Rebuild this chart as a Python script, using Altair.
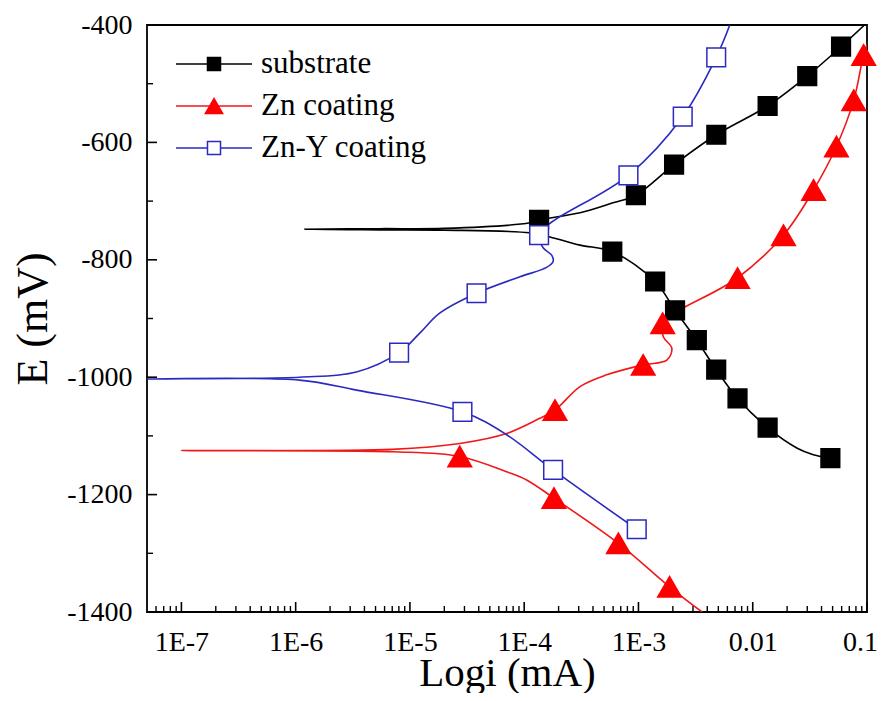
import json
import altair as alt
import pandas as pd

FONT = "Liberation Serif"
series_names = ["substrate", "Zn coating", "Zn-Y coating"]
line_colors = ["#000000", "#f01818", "#2a2ac0"]

# Each path: cathodic end -> corrosion tip -> anodic end ; m = 1 where a symbol is drawn
sub_i = [0.0478, 0.0339, 0.0245, 0.0135, 7.36e-3, 4.79e-3, 3.24e-3, 2.09e-3, 1.40e-3, 5.9e-4,
         3.08e-4, 1.68e-4, 1.12e-4, 2.0e-5, 5.4e-6, 1.2e-6, 5.4e-6, 2.0e-5, 1.12e-4, 1.35e-4,
         3.08e-4, 5.98e-4, 9.5e-4, 2.05e-3, 4.8e-3, 0.0135, 0.030, 0.0593, 0.095]
sub_E = [-1138, -1132, -1121, -1086, -1036, -987, -937, -886, -837, -786,
         -775, -761, -754, -749.5, -749, -748, -747, -746.5, -737, -732,
         -720, -703, -690, -638, -587, -538, -487, -437, -400]
sub_m = [1, 0, 0, 1, 1, 1, 1, 1, 1, 1,
         0, 0, 0, 0, 0, 0, 0, 0, 0, 1,
         0, 0, 1, 1, 1, 1, 1, 1, 0]

zn_i = [3.6e-3, 1.87e-3, 6.67e-4, 1.82e-4, 1.05e-4, 7.0e-5, 2.73e-5, 7.0e-6, 1.0e-7, 7.0e-6,
        2.73e-5, 7.0e-5, 1.37e-4, 1.86e-4, 3.08e-4, 5.27e-4, 1.10e-3, 1.77e-3, 1.96e-3, 1.65e-3,
        1.63e-3, 7.36e-3, 0.0186, 0.0341, 0.054, 0.0766, 0.0935, 0.104]
zn_E = [-1400, -1357, -1283, -1206, -1175, -1161, -1135, -1127, -1125, -1123,
        -1113, -1096, -1070, -1056, -1016, -996, -979, -971, -951, -931,
        -908, -831, -758, -681, -607, -528, -451, -425]
zn_m = [0, 1, 1, 1, 0, 0, 1, 0, 0, 0,
        0, 0, 0, 1, 0, 0, 1, 0, 0, 0,
        1, 1, 1, 1, 1, 1, 1, 0]

zy_i = [9.66e-4, 1.79e-4, 7.02e-5, 2.88e-5, 3.4e-6, 1.08e-6, 5e-8, 1.08e-6, 3.4e-6, 8.04e-6,
        1.22e-5, 1.82e-5, 3.83e-5, 9.16e-5, 1.57e-4, 1.79e-4, 1.74e-4, 1.47e-4, 1.35e-4, 1.68e-4,
        8.17e-4, 2.44e-3, 4.79e-3, 6.3e-3]
zy_E = [-1259, -1158, -1098, -1059, -1022, -1005, -1003, -1000, -991, -958,
        -925, -891, -857, -829, -813, -803, -792, -780, -758, -738,
        -656, -556, -455, -400]
zy_m = [1, 1, 0, 1, 0, 0, 0, 0, 0, 1,
        0, 0, 1, 0, 0, 0, 0, 0, 1, 0,
        1, 1, 1, 0]

x_tick_values = [1e-7, 1e-6, 1e-5, 1e-4, 1e-3, 0.01, 0.1]
x_tick_labels = ["1E-7", "1E-6", "1E-5", "1E-4", "1E-3", "0.01", "0.1"]
x_minor_values = [k * 10.0 ** d for d in range(-8, -1) for k in range(2, 10)
                  if 5e-8 < k * 10.0 ** d < 0.1]
y_tick_values = [-1400, -1200, -1000, -800, -600, -400]
y_minor_values = [-1300, -1100, -900, -700, -500]

W, H = 720, 587

rows = []
for name, xs, ys, ms in [("substrate", sub_i, sub_E, sub_m),
                         ("Zn coating", zn_i, zn_E, zn_m),
                         ("Zn-Y coating", zy_i, zy_E, zy_m)]:
    for k, (a, b, c) in enumerate(zip(xs, ys, ms)):
        rows.append({"series": name, "i": a, "E": b, "m": c, "idx": k})
df = pd.DataFrame(rows)

xscale = alt.Scale(type="log", domain=[5e-8, 0.1], nice=False)
yscale = alt.Scale(domain=[-1400, -400], nice=False, zero=False)

xaxis = alt.Axis(values=x_tick_values,
                 labelExpr=json.dumps(x_tick_labels) + "[round(log(datum.value)/LN10) + 7]",
                 ticks=False, tickSize=0, domain=False, grid=False, labelPadding=16,
                 labelOffset={"condition": {"test": "datum.value > 0.05", "value": -7}, "value": 0},
                 labelFlush=False, labelOverlap=False, labelFont=FONT, labelFontSize=28,
                 labelColor="black", title="Logi (mA)", titleFont=FONT, titleFontSize=41,
                 titleFontWeight="normal", titleColor="black", titleX=W / 2, titleY=73,
                 titleBaseline="alphabetic", titleAlign="center")
yaxis = alt.Axis(values=y_tick_values, labelExpr="toString(datum.value)",
                 ticks=False, tickSize=0, domain=False, grid=False, labelPadding=15,
                 labelFlush=False, labelOverlap=False, labelFont=FONT, labelFontSize=28,
                 labelColor="black", title="E (mV)", titleFont=FONT, titleFontSize=44,
                 titleFontWeight="normal", titleColor="black", titleX=-114, titleY=H / 2,
                 titleBaseline="middle", titleAlign="center", titleAngle=270)

X = lambda f: alt.X(f, scale=xscale, axis=xaxis, title="Logi (mA)")
Y = lambda f: alt.Y(f, scale=yscale, axis=yaxis, title="E (mV)")

stroke_scale = alt.Scale(domain=series_names, range=line_colors)

xmaj = alt.Chart(pd.DataFrame({"v": x_tick_values})).mark_rule(strokeWidth=1.6, color="black").encode(
    x=X("v:Q"), y=alt.value(H), y2=alt.value(H - 10))
xmin = alt.Chart(pd.DataFrame({"v": x_minor_values})).mark_rule(strokeWidth=1.4, color="black").encode(
    x=X("v:Q"), y=alt.value(H), y2=alt.value(H - 6))
ymaj = alt.Chart(pd.DataFrame({"v": y_tick_values})).mark_rule(strokeWidth=1.6, color="black").encode(
    y=Y("v:Q"), x=alt.value(0), x2=alt.value(10))
ymin = alt.Chart(pd.DataFrame({"v": y_minor_values})).mark_rule(strokeWidth=1.4, color="black").encode(
    y=Y("v:Q"), x=alt.value(0), x2=alt.value(6))

lines = alt.Chart(df).mark_line(interpolate="catmull-rom", strokeWidth=1.6, clip=True).encode(
    x=X("i:Q"), y=Y("E:Q"),
    stroke=alt.Stroke("series:N", scale=stroke_scale, legend=None),
    order=alt.Order("idx:Q"), detail="series:N")

styles = {
    "substrate": dict(shape="square", size=350, fill="#000000", stroke="#000000"),
    "Zn coating": dict(shape="triangle-up", size=560, fill="#ff0000", stroke="#ff0000"),
    "Zn-Y coating": dict(shape="square", size=350, fill="#ffffff", stroke="#2a2ac0"),
}
leg_sizes = {"substrate": 170, "Zn coating": 300, "Zn-Y coating": 170}

point_layers = []
for s in series_names:
    st = styles[s]
    point_layers.append(
        alt.Chart(df).transform_filter(f"datum.series == '{s}' && datum.m == 1")
        .mark_point(shape=st["shape"], size=st["size"], fill=st["fill"], stroke=st["stroke"],
                    strokeWidth=1.5, opacity=1, fillOpacity=1, filled=True)
        .encode(x=X("i:Q"), y=Y("E:Q")))

main = alt.layer(xmin, xmaj, ymin, ymaj, lines, *point_layers)

leg_df = pd.DataFrame({"series": series_names, "row": [0, 1, 2]})
ly = alt.Y("row:Q", axis=None, scale=alt.Scale(domain=[0, 2], range=[39, 123]))
leg_rule = alt.Chart(leg_df).mark_rule(strokeWidth=1.6).encode(
    x=alt.value(29), x2=alt.value(105), y=ly,
    stroke=alt.Stroke("series:N", scale=stroke_scale, legend=None))
leg_pts = []
for s in series_names:
    st = styles[s]
    leg_pts.append(
        alt.Chart(leg_df).transform_filter(f"datum.series == '{s}'")
        .mark_point(shape=st["shape"], size=leg_sizes[s], fill=st["fill"], stroke=st["stroke"],
                    strokeWidth=1.5, opacity=1, fillOpacity=1, filled=True)
        .encode(x=alt.value(67), y=ly))
leg_txt = alt.Chart(leg_df).mark_text(align="left", baseline="middle", font=FONT,
                                      fontSize=31, color="black").encode(
    x=alt.value(114), y=ly, text="series:N")
legend = alt.layer(leg_rule, *leg_pts, leg_txt)

chart = alt.layer(main, legend).resolve_scale(x="independent", y="independent").properties(
    width=W, height=H,
    autosize=alt.AutoSizeParams(type="none"),
    padding={"left": 139, "top": 17, "right": 11, "bottom": 81},
    background="white",
).configure_view(stroke="black", strokeWidth=1.8)

chart.save("out.html", embed_options={"renderer": "svg", "actions": False})
